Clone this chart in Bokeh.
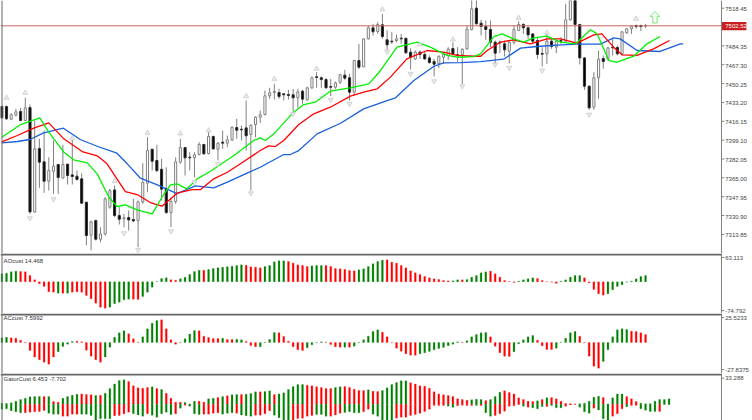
from bokeh.plotting import figure
from bokeh.layouts import column
from bokeh.models import Range1d, Span, Label
from bokeh.core.properties import value
from bokeh.embed import file_html
from bokeh.resources import INLINE

# ---------- candles (first value is the partly hidden bar at index -1)
highs = [7430.1,7430.4,7423.5,7427.4,7428.3,7437.4,7431.3,7416.9,7400.3,7407.8,7383.7,7398.8,7377.7,7394.9,7377.7,7402.4,7371.6,7369.2,7343.0,7326.4,7327.3,7320.4,7347.5,7355.1,7358.1,7338.5,7332.4,7335.5,7346.0,7344.5,7378.3,7401.8,7391.2,7394.9,7382.2,7374.6,7347.5,7383.7,7400.3,7392.7,7388.2,7388.2,7397.3,7395.8,7407.8,7403.3,7397.3,7407.8,7403.3,7411.4,7418.4,7412.3,7434.9,
7413.2,7420.5,7425.9,7444.0,7446.4,7450.0,7445.5,7441.6,7444.6,7445.5,7445.5,7444.6,7447.6,7456.7,7460.6,7456.7,7455.5,7454.5,7452.1,7459.1,7462.7,7459.1,7471.7,7486.2,7491.3,7502.8,7504.3,7505.8,7513.3,7498.3,7496.8,7494.6,7495.2,7491.3,7482.3,7480.2,7480.2,7478.7,7475.7,7472.6,7475.7,7478.7,7483.2,7487.7,7483.2,7482.3,7502.8,7528.0,7528.0,7507.9,7507.3,7507.3,7489.2,7489.2,7489.2,7488.6,7502.8,7506.7,7504.9,7501.9,7495.9,7491.6,7483.2,7495.2,7490.7,7489.8,7492.2,7522.4,7535.0,7536.0,7504.3,7474.1,7448.5,7460.6,7480.2,7475.7,7483.2,7490.7,7484.7,7497.7,7500.4,7501.9,7503.7,7503.7,7504.3]
lows = [7418.4,7417.5,7417.5,7420.5,7416.3,7416.3,7332.4,7333.6,7356.0,7351.4,7353.5,7350.5,7350.5,7364.1,7359.0,7359.0,7362.6,7341.5,7303.8,7299.3,7308.3,7306.8,7312.8,7337.0,7329.4,7322.8,7320.4,7317.4,7324.9,7302.3,7341.5,7352.0,7371.6,7370.1,7344.5,7332.4,7320.4,7341.5,7377.7,7367.1,7371.6,7365.6,7385.2,7386.1,7386.1,7390.6,7380.7,7391.2,7392.7,7398.2,7400.3,7398.8,7389.7,
7353.5,7401.8,7414.7,7421.4,7436.5,7435.9,7436.5,7434.9,7435.9,7425.0,7428.3,7431.9,7434.9,7445.5,7446.4,7446.4,7445.8,7438.9,7445.5,7450.0,7453.6,7434.9,7439.5,7463.6,7465.1,7490.1,7493.7,7495.2,7490.7,7480.2,7486.2,7487.7,7486.2,7477.2,7463.0,7471.7,7472.6,7471.7,7468.1,7456.7,7464.2,7468.1,7471.7,7475.7,7469.6,7450.0,7480.8,7498.3,7503.7,7493.7,7489.8,7483.2,7468.1,7477.8,7474.7,7468.7,7485.6,7497.7,7495.2,7490.7,7486.2,7472.6,7465.7,7468.1,7481.7,7477.8,7486.2,7487.7,7507.3,7487.7,7467.5,7444.6,7426.5,7426.5,7436.5,7463.6,7471.1,7475.7,7475.7,7475.7,7495.2,7495.2,7499.8,7497.7,7500.7]
opens = [7429.5,7429.5,7418.1,7421.7,7425.0,7416.9,7428.6,7334.2,7391.5,7379.5,7362.0,7371.0,7377.1,7365.0,7377.4,7367.7,7366.5,7364.1,7343.0,7313.1,7326.4,7309.5,7314.3,7338.5,7354.1,7330.9,7327.9,7329.1,7327.3,7326.4,7343.3,7360.2,7390.9,7380.7,7372.8,7355.1,7333.6,7343.6,7379.2,7392.4,7383.7,7383.1,7386.1,7395.2,7387.0,7402.4,7390.9,7397.3,7396.4,7399.4,7410.5,7409.0,7410.2,
7404.2,7413.2,7419.9,7422.3,7439.2,7442.2,7442.2,7441.0,7440.4,7440.1,7437.4,7443.4,7435.6,7446.4,7456.4,7455.5,7453.9,7447.6,7447.0,7451.5,7457.9,7455.5,7442.5,7471.1,7465.4,7490.7,7500.7,7497.4,7503.4,7489.8,7488.6,7489.2,7491.3,7491.3,7478.7,7472.6,7478.7,7476.6,7473.5,7470.2,7468.4,7474.1,7475.7,7482.0,7476.3,7476.3,7481.7,7499.2,7518.5,7504.9,7501.9,7499.2,7487.7,7487.7,7486.2,7479.6,7487.7,7498.3,7503.7,7500.7,7495.2,7489.2,7477.5,7477.2,7488.6,7483.2,7489.2,7488.6,7507.9,7532.0,7503.7,7473.5,7447.9,7428.9,7455.5,7472.9,7472.6,7483.2,7482.9,7477.2,7496.2,7499.8,7502.5,7502.5,7502.2]
closes = [7419.3,7418.4,7422.0,7424.7,7416.9,7428.3,7334.2,7391.2,7379.2,7362.0,7371.6,7375.6,7365.3,7377.1,7367.1,7366.2,7363.5,7342.1,7312.8,7325.2,7309.5,7314.3,7346.0,7353.5,7330.9,7327.6,7328.8,7327.0,7326.1,7343.3,7360.8,7389.7,7380.1,7371.6,7354.8,7333.6,7343.6,7379.5,7392.4,7383.1,7383.1,7385.8,7395.2,7386.7,7402.4,7391.2,7396.4,7396.4,7399.4,7410.8,7408.1,7408.4,7403.0,
7412.6,7419.9,7422.0,7439.2,7441.9,7443.1,7438.6,7440.1,7439.5,7437.4,7442.8,7436.2,7446.4,7455.5,7455.8,7453.9,7446.4,7447.0,7450.9,7458.2,7455.2,7442.5,7471.1,7465.1,7490.7,7500.7,7497.1,7503.7,7492.8,7485.3,7488.0,7490.7,7490.7,7478.1,7474.1,7478.7,7476.6,7472.6,7469.3,7467.8,7475.0,7476.6,7481.4,7477.2,7475.7,7481.4,7499.5,7517.9,7504.3,7501.9,7499.2,7487.7,7477.8,7487.1,7480.8,7487.7,7499.2,7503.7,7500.7,7494.3,7488.6,7476.6,7476.9,7488.6,7483.8,7488.6,7488.6,7507.9,7530.0,7503.7,7473.5,7447.9,7428.3,7455.5,7472.3,7470.2,7482.6,7482.6,7477.2,7497.1,7499.8,7501.9,7501.9,7501.9,7502.5]

# ---------- moving averages
blue_at = [-1.0,2.3,5.0,7.9,12.1,15.7,19.3,23.5,25.7,28.5,32.1,36.3,40.2,44.1,47.0,51.9,54.0,59.0,60.4,62.2,66.1,71.1,76.0,81.0,82.8,86.7,90.9,93.0,96.6,100.9,105.8,109.4,112.9,117.2,121.4,126.4,129.2,130.6,134.2,139.1,143.4,144.0]
blue_ma = [7396.7,7397.9,7399.7,7405.7,7409.9,7399.7,7393.6,7387.3,7377.7,7364.7,7358.7,7350.8,7357.8,7356.0,7361.1,7370.7,7374.6,7386.1,7386.1,7389.7,7404.8,7414.4,7427.4,7434.9,7437.4,7453.0,7465.7,7469.0,7469.3,7470.2,7472.3,7482.3,7483.8,7485.0,7485.9,7485.9,7491.6,7490.7,7480.2,7479.3,7486.2,7486.2]
red_at = [-1.0,2.3,5.8,9.0,12.2,16.1,19.3,21.4,25.3,27.8,30.6,33.1,36.3,39.5,41.3,44.1,47.0,49.8,54.0,55.8,57.2,59.0,62.2,65.4,68.9,73.2,76.0,78.9,81.7,85.2,89.5,93.0,95.9,99.4,100.9,102.3,105.1,107.9,111.5,115.0,117.9,121.4,125.0,126.7,129.2,131.0,134.2,137.7,141.1]
red_ma = [7397.6,7403.3,7409.9,7414.7,7400.3,7388.8,7384.9,7377.7,7352.6,7349.9,7342.7,7339.4,7351.1,7354.4,7354.4,7364.1,7370.1,7377.7,7389.7,7393.9,7393.3,7398.8,7413.2,7422.9,7428.9,7438.9,7442.5,7445.5,7456.1,7472.6,7480.2,7478.7,7475.7,7475.0,7475.0,7480.2,7487.7,7489.8,7486.2,7490.7,7490.7,7486.8,7494.3,7495.2,7483.2,7476.3,7475.7,7481.7,7489.2]
green_at = [-1.0,3.0,7.1,9.0,12.2,14.3,17.2,19.3,21.8,23.5,25.3,27.8,31.0,33.1,34.9,36.3,38.4,40.6,43.4,48.4,49.8,52.6,54.0,55.1,56.9,61.1,63.3,65.7,68.9,73.2,77.1,79.6,83.1,87.4,90.2,93.8,95.9,99.4,100.9,103.7,105.5,107.9,110.1,112.2,115.0,117.9,121.1,124.3,125.7,128.2,129.9,133.5,136.3,139.1]
green_ma = [7401.8,7413.2,7419.3,7406.3,7388.2,7381.3,7378.6,7368.6,7347.5,7339.1,7340.6,7336.1,7332.4,7347.5,7358.7,7359.6,7355.1,7364.1,7371.0,7385.2,7389.7,7398.8,7401.2,7398.8,7404.8,7424.4,7431.3,7433.4,7443.4,7446.4,7450.0,7462.1,7483.2,7487.7,7483.2,7475.7,7474.1,7474.7,7477.2,7492.8,7495.2,7490.7,7487.7,7491.6,7493.1,7487.7,7486.2,7498.9,7495.2,7471.1,7469.6,7475.0,7486.2,7492.8]

# ---------- fractals
fractal_up_at = [0,4,14,23,30,37,43,51,57,66,80,88,95,109,115,134]
fractal_up = [7437.4,7441.9,7400.6,7362.0,7405.7,7405.1,7407.8,7438.9,7454.5,7463.6,7517.3,7485.6,7490.1,7509.7,7496.2,7508.8]
fractal_dn_at = [5,10,25,28,35,40,45,52,61,69,73,81,86,91,97,104,107,114,124]
fractal_dn = [7328.5,7345.7,7315.0,7299.9,7316.8,7361.1,7377.7,7351.1,7422.9,7435.6,7431.9,7479.3,7459.1,7452.4,7447.9,7467.5,7464.5,7462.1,7422.3]

# ---------- oscillators
ao = [20.8,22.5,26.0,27.7,26.9,26.0,16.5,5.2,-5.2,-12.1,-26.0,-26.9,-29.5,-29.5,-29.5,-26.9,-26.0,-26.9,-35.5,-44.2,-55.5,-65.9,-68.5,-65.9,-57.2,-52.9,-46.8,-45.1,-45.1,-45.9,-38.1,-26.9,-13.9,0.9,8.7,10.4,5.2,4.3,7.8,12.1,19.1,26.9,30.3,30.3,32.1,34.7,36.4,38.1,39.0,40.7,42.5,44.2,43.3,39.0,38.1,36.4,39.9,42.5,52.0,54.6,54.6,52.9,48.5,44.2,42.5,39.9,41.6,42.5,42.5,42.5,39.9,34.7,33.8,32.1,29.5,28.6,31.2,33.8,39.9,46.8,52.9,56.3,57.2,51.1,48.5,42.5,36.4,28.6,23.4,19.1,13.9,10.4,7.8,6.1,3.5,2.6,2.6,5.2,5.2,6.1,12.1,16.5,23.4,26.0,27.7,20.8,12.1,3.5,0.9,-1.7,1.7,5.2,7.8,10.4,8.7,3.5,0.4,-0.9,-4.3,1.7,5.2,12.1,16.5,16.5,10.4,-2.6,-19.9,-31.2,-34.7,-31.2,-20.8,-12.1,-7.8,-0.9,1.7,7.8,13.9,16.5]
ao_dir = list("GGGG"+"R"*8+"GRG"+"R"*8+"G"*5+"RR"+"G"*6+"RR"+"G"*5+"R"+"G"*8+"RRRR"+"G"*5+"R"*5+"GGG"+"R"*7+"G"*6+"R"*14+"GG"+"R"+"G"*5+"R"*6+"G"*4+"R"*5+"G"*5+"R"*5+"G"*9)
ac = [4.8,5.5,4.8,4.4,2.4,0.3,-8.2,-15.0,-17.8,-20.2,-22.2,-15.0,-9.6,-4.1,-1.7,1.0,1.4,0.7,-7.9,-14.0,-17.8,-20.2,-15.0,-4.8,5.5,9.9,12.0,8.9,3.8,0.3,5.8,14.0,19.8,22.6,23.3,14.0,2.7,-1.7,-0.3,3.8,8.6,12.3,12.0,6.5,5.1,4.1,4.1,4.4,3.1,3.1,3.4,2.7,1.0,-3.1,-4.4,-4.4,0.2,3.1,10.3,9.9,6.2,1.4,-4.4,-7.5,-8.2,-5.5,-2.4,-0.3,0.7,0.3,-2.1,-4.4,-4.8,-4.8,-4.8,-3.8,-0.3,2.7,6.5,11.3,13.0,10.6,5.8,-0.3,-5.8,-8.9,-11.6,-13.0,-13.0,-11.6,-10.6,-9.2,-7.5,-6.2,-5.1,-3.4,-1.7,0.7,-0.3,1.7,5.8,8.2,9.9,10.3,5.8,-3.8,-10.6,-14.0,-14.4,-9.6,-1.4,2.7,5.8,7.2,2.4,-3.4,-7.2,-7.2,-5.8,0.3,4.4,9.9,11.3,6.5,-0.3,-14.0,-24.3,-26.3,-19.5,-7.5,5.8,13.0,14.0,13.3,11.6,11.3,9.9,8.2]
ac_dir = list("GG"+"R"*10+"GGGG"+"R"*6+"G"*5+"RRR"+"GGGG"+"RRRR"+"GGGG"+"R"*5+"G"+"RR"+"GG"+"RRR"+"GGGG"+"R"*6+"GGGG"+"RRRR"+"GRG"+"G"*5+"R"*8+"G"*9+"R"+"G"*5+"R"*5+"G"*5+"RRRR"+"G"*5+"R"*5+"G"*6+"RRRR")
gator_up = [1.3,0.9,1.7,3.8,6.0,7.7,9.4,9.8,9.8,9.8,9.8,3.4,2.6,7.7,9.8,11.5,12.8,13.2,12.4,12.0,11.1,11.5,14.1,20.1,26.0,30.3,31.2,29.0,23.5,20.9,20.5,21.4,22.2,20.1,18.8,14.1,7.7,2.6,2.6,2.1,0.2,3.8,3.8,2.6,6.8,7.7,8.5,9.8,10.7,12.0,12.4,12.4,12.8,13.7,15.8,15.8,16.2,17.1,12.4,13.2,14.5,18.8,22.6,25.2,25.2,24.3,23.5,22.2,21.4,20.1,20.1,21.4,22.2,22.6,21.4,19.2,17.5,17.5,18.4,16.7,16.2,17.5,20.9,25.2,27.8,29.9,29.9,27.3,26.0,23.5,23.1,20.5,15.8,13.2,12.0,11.1,9.8,6.8,6.0,5.1,5.6,6.4,6.0,4.7,6.0,9.8,15.4,17.1,14.9,13.2,8.1,6.0,3.8,3.4,4.3,6.0,8.1,8.5,6.8,3.8,0.9,0.4,0.2,0.4,1.3,3.8,9.0,10.2,8.5,0.2,8.1,13.2,13.2,9.8,6.8,3.4,1.3,0.4,0.4,3.8,6.0,6.0,6.8]
gator_up_dir = list("G"*9+"RG"+"RR"+"GGGG"+"RRR"+"G"+"R"+"G"*5+"R"*5+"G"+"R"+"G"+"RRRR"+"GGG"+"RR"+"GG"+"R"+"G"+"R"+"GG"+"R"+"GGG"+"R"+"GG"+"R"+"G"*6+"R"*6+"GG"+"R"*5+"G"+"RR"+"G"*6+"R"*13+"GGG"+"R"+"GGG"+"R"*7+"G"+"R"+"G"+"R"*6+"G"*5+"R"+"GGGG"+"RRR"+"G"*7)
gator_dn = [-6.4,-6.0,-8.5,-9.8,-11.1,-11.1,-10.2,-9.8,-9.4,-8.1,-11.5,-12.8,-12.8,-15.4,-15.4,-12.8,-12.8,-12.8,-12.8,-14.5,-20.5,-18.8,-18.8,-18.8,-14.9,-14.5,-12.4,-10.2,-12.4,-13.7,-15.4,-12.4,-14.1,-16.7,-12.4,-10.2,-13.2,-12.4,-5.1,-1.3,-2.6,-12.4,-13.2,-12.8,-12.8,-11.5,-11.1,-12.8,-11.5,-11.1,-11.5,-13.7,-14.9,-15.4,-14.1,-14.1,-12.4,-8.5,-14.1,-17.5,-20.1,-20.9,-20.1,-18.4,-17.9,-15.4,-14.5,-13.2,-13.2,-15.4,-15.4,-13.7,-11.5,-10.7,-9.8,-11.1,-11.1,-9.8,-6.4,-12.8,-15.4,-20.9,-20.9,-20.9,-17.9,-16.7,-16.7,-14.5,-13.2,-11.5,-9.4,-6.4,-1.7,-1.7,-1.7,-2.6,-3.8,-2.1,-1.3,-1.7,-1.7,-1.7,-1.7,-11.1,-15.4,-14.5,-12.4,-9.0,-2.6,-2.1,-0.4,-2.6,-3.8,-4.7,-6.0,-3.0,-3.0,-1.7,-4.7,-4.7,-2.6,-0.9,-0.2,-3.8,-9.8,-11.5,-5.1,-7.3,-18.8,-20.9,-15.4,-12.4,-6.0,-3.4,-1.7,-1.7,-6.0,-7.7,-9.4,-9.4,-9.4,-0.4,-0.4]
gator_dn_dir = list("G"*5+"R"*5+"GGG"+"RRRR"+"G"*7+"RRRR"+"GGG"+"R"+"G"*5+"R"+"G"+"R"+"GGG"+"RRRR"+"GGG"+"R"+"GGG"+"RRRR"+"GGGG"+"R"*5+"GGG"+"RRR"+"GGGG"+"RR"+"G"*5+"R"*11+"GG"+"RRRR"+"G"+"R"+"GG"+"R"*6+"G"+"R"+"GGG"+"R"+"GGG"+"RRR"+"GGG"+"R"+"GGG"+"RRR"+"G"+"RR"+"GGGG"+"R"+"GG")

price_ticks = [7518.45,7484.35,7467.30,7450.25,7433.20,7416.15,7399.10,7382.05,7365.00,7347.95,7330.90,7313.85]
price_labels = ["7518.45","7484.35","7467.30","7450.25","7433.20","7416.15","7399.10","7382.05","7365.00","7347.95","7330.90","7313.85"]
ao_ticks, ao_labels = [63.113, -74.792], ["63.113", "-74.792"]
ac_ticks, ac_labels = [25.5233, -27.8375], ["25.5233", "-27.8375"]
gator_ticks, gator_labels = [33.288], ["33.288"]
last_price = 7502.52

FONT = "Liberation Sans"
AXIS = "#808080"
FRAME = "#666666"
GREEN, RED = "#008000", "#ff0000"
BAR_START, AXIS_BAR, FULL_END = -1.277, 152.16, 158.76

assert len(highs) == len(lows) == len(opens) == len(closes) == 138
assert len(ao) == len(ao_dir) == len(ac) == len(ac_dir) == 138
assert len(gator_up) == len(gator_up_dir) == len(gator_dn) == len(gator_dn_dir) == 143


def panel(height, y_start, y_end, ticks, labels, sep=True, offset=0):
    """One chart window; its frame fills the page width and its scale is drawn inside it."""
    p = figure(width=752, height=height, output_backend="svg", toolbar_location=None,
               x_range=Range1d(BAR_START, FULL_END), y_range=Range1d(y_start, y_end),
               x_axis_location=None, y_axis_location=None,
               min_border_left=0, min_border_right=0, min_border_top=0, min_border_bottom=0,
               tools="", outline_line_color=None, background_fill_color="white")
    p.grid.visible = False
    p.add_layout(Span(location=1.5, dimension="height", location_units="screen",
                      line_color=FRAME, line_width=1))
    p.segment([AXIS_BAR], [y_start], [AXIS_BAR], [y_end], line_color=AXIS, line_width=1)
    n = len(ticks)
    p.segment([AXIS_BAR] * n, ticks, [AXIS_BAR + 0.6] * n, ticks, line_color=AXIS, line_width=1)
    p.text([AXIS_BAR + 0.8] * n, ticks, text=labels, text_font=value(FONT), text_font_size="6px",
           text_color="#444444", text_baseline="middle", y_offset=offset)
    if sep:
        one_px = (y_end - y_start) / height
        p.segment([BAR_START], [y_end - one_px], [AXIS_BAR], [y_end - one_px],
                  line_color=FRAME, line_width=2)
    return p


def caption(p, text, y):
    p.add_layout(Label(x=3, y=y, x_units="screen", text=text, text_font=FONT, text_font_size="6px",
                       text_color="#333333", text_baseline="middle"))


def bars(p, xs, tops, dirs):
    colors = [GREEN if d == "G" else RED for d in dirs]
    p.vbar(x=xs, top=tops, bottom=0, width=0.4, fill_color=colors, line_color=colors,
           line_alpha=0.2, line_width=1)


xs = [i - 1 for i in range(len(highs))]

# --- main panel
main = panel(253, 7296.6, 7525.4, price_ticks, price_labels, sep=False, offset=1)
main.segment(xs, lows, xs, highs, line_color="#808080", line_width=1)
up = [i for i in range(len(xs)) if closes[i] >= opens[i]]
dn = [i for i in range(len(xs)) if closes[i] < opens[i]]
main.vbar(x=[xs[i] for i in up], bottom=[opens[i] for i in up], top=[closes[i] for i in up],
          width=0.45, fill_color="white", line_color="#808080", line_width=1)
main.vbar(x=[xs[i] for i in dn], bottom=[closes[i] for i in dn], top=[opens[i] for i in dn],
          width=0.45, fill_color="black", line_color="#303030", line_width=1)
main.line(blue_at, blue_ma, line_color="#1a5fdc", line_width=1.3)
main.line(red_at, red_ma, line_color="#ff0000", line_width=1.3)
main.line(green_at, green_ma, line_color="#00f000", line_width=1.3)
main.scatter(fractal_up_at, fractal_up, marker="triangle", size=5, fill_color="#ececec",
             line_color="#c4c4c4", line_width=0.7)
main.scatter(fractal_dn_at, fractal_dn, marker="inverted_triangle", size=5, fill_color="#ececec",
             line_color="#c4c4c4", line_width=0.7)
main.segment([BAR_START], [last_price], [AXIS_BAR], [last_price], line_color="#c86464", line_width=1)
signal_x, signal_y = 138.0, 7510.0
main.patch([signal_x + d for d in (0, 1.05, 0.45, 0.45, -0.45, -0.45, -1.05)],
           [signal_y + d for d in (5.4, 1.0, 1.0, -5.0, -5.0, 1.0, 1.0)],
           fill_color="white", line_color="#78e678", line_width=1)
main.quad(left=[AXIS_BAR + 0.12], right=[AXIS_BAR + 5.3], bottom=[last_price - 4], top=[last_price + 3.5],
          fill_color="#c81e1e", line_color=None)
main.text([AXIS_BAR + 0.8], [last_price], text=[f"{last_price:.2f}"], text_font=value(FONT),
          text_font_size="6px", text_color="white", text_baseline="middle")

# --- AO
p_ao = panel(60, -82.4, 73.6, ao_ticks, ao_labels)
bars(p_ao, xs, ao, ao_dir)
caption(p_ao, "AOcust 14.468", 54)

# --- AC
p_ac = panel(60, -31.8, 29.75, ac_ticks, ac_labels)
bars(p_ac, xs, ac, ac_dir)
caption(p_ac, "ACcust 7.5992", 25)

# --- Gator
gx = [i - 1 for i in range(len(gator_up))]
p_g = panel(47, -20.9, 39.3, gator_ticks, gator_labels)
bars(p_g, gx, gator_up, gator_up_dir)
bars(p_g, gx, gator_dn, gator_dn_dir)
caption(p_g, "GatorCust 6.453 -7.702", 32)

page = column(main, p_ao, p_ac, p_g, spacing=0)
open("out.html", "w").write(file_html(page, INLINE))
